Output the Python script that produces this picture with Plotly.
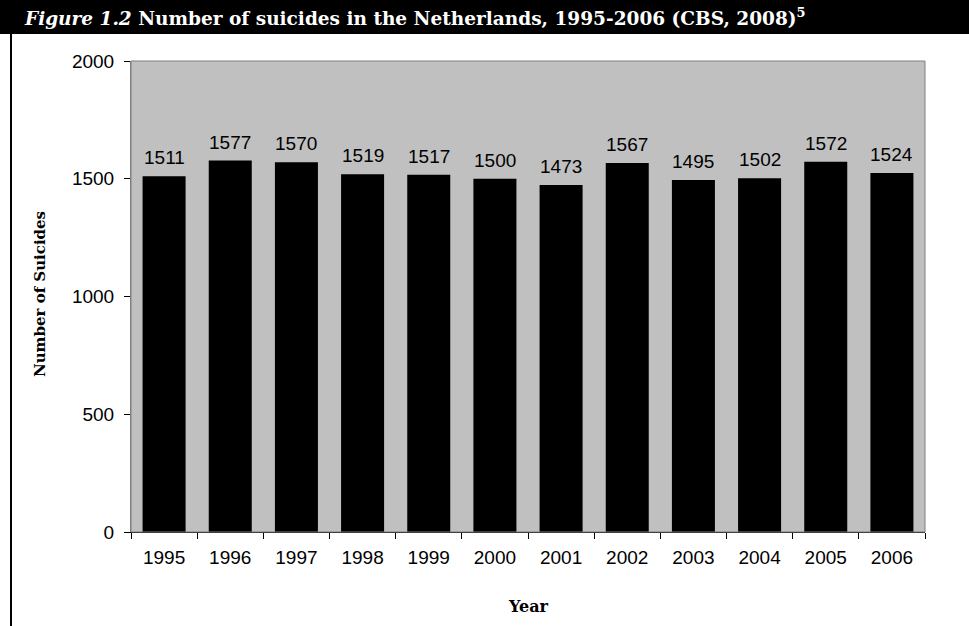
import plotly.graph_objects as go

# Annual number of suicides in the Netherlands (CBS, 2008)
years = ["1995", "1996", "1997", "1998", "1999", "2000",
         "2001", "2002", "2003", "2004", "2005", "2006"]
suicides = [1511, 1577, 1570, 1519, 1517, 1500,
            1473, 1567, 1495, 1502, 1572, 1524]
y_ticks = [0, 500, 1000, 1500, 2000]

W, H = 969, 626
L, R, T, B = 131, 44, 61, 94
PW, PH = W - L - R, H - T - B


def px_x(px):
    return (px - L) / PW


def px_y(py):
    return (H - B - py) / PH


sans = "Liberation Sans, Arial, sans-serif"
serif = "DejaVu Serif, serif"

fig = go.Figure()
fig.add_trace(go.Bar(
    x=years, y=suicides, width=0.65,
    marker=dict(color="black", line=dict(width=0)),
    hoverinfo="x+y",
))

# value labels above each bar (x given as category index)
for i, v in enumerate(suicides):
    fig.add_annotation(x=i, y=v, text=str(v), showarrow=False,
                       xref="x", yref="y",
                       yanchor="bottom", yshift=6,
                       font=dict(family=sans, size=19, color="black"))

shapes = [
    # title banner
    dict(type="rect", xref="paper", yref="paper",
         x0=px_x(0), x1=px_x(W), y0=px_y(34), y1=px_y(0),
         fillcolor="black", line=dict(width=0), layer="below"),
    # left frame rule
    dict(type="line", xref="paper", yref="paper",
         x0=px_x(11), x1=px_x(11), y0=px_y(34), y1=px_y(H),
         line=dict(color="black", width=2)),
    # plot area border
    dict(type="rect", xref="paper", yref="paper",
         x0=0, x1=1, y0=0, y1=1,
         line=dict(color="#808080", width=1), layer="above"),
]

fig.add_annotation(
    xref="paper", yref="paper", x=px_x(22), y=px_y(17),
    xanchor="left", yanchor="middle", showarrow=False,
    text="<i>Figure 1.2</i> Number of suicides in the Netherlands, 1995-2006 (CBS, 2008)<sup>5</sup>",
    font=dict(family=serif, size=18.5, color="white", weight="bold"),
)
fig.add_annotation(
    xref="paper", yref="paper", x=px_x(40), y=px_y(294),
    textangle=-90, showarrow=False, xanchor="center", yanchor="middle",
    text="Number of Suicides",
    font=dict(family=serif, size=15, color="black", weight="bold"),
)
fig.add_annotation(
    xref="paper", yref="paper", x=0.5, y=px_y(606),
    showarrow=False, xanchor="center", yanchor="middle",
    text="Year",
    font=dict(family=serif, size=16, color="black", weight="bold"),
)

fig.update_layout(
    width=W, height=H,
    margin=dict(l=L, r=R, t=T, b=B),
    paper_bgcolor="white", plot_bgcolor="#C0C0C0",
    showlegend=False, shapes=shapes, bargap=0.35,
    xaxis=dict(
        type="category", range=[-0.5, len(years) - 0.5],
        tickson="boundaries", ticks="outside", tickangle=0,
        ticklen=6, tickcolor="black", showline=True, linecolor="black",
        linewidth=1, showgrid=False, ticklabelstandoff=8,
        tickfont=dict(family=sans, size=19, color="black"),
    ),
    yaxis=dict(
        range=[0, 2000], tickvals=y_ticks, ticks="outside", ticklen=6,
        tickcolor="black", showline=True, linecolor="#808080",
        linewidth=1, showgrid=False, zeroline=False, ticklabelstandoff=6,
        tickfont=dict(family=sans, size=19, color="black"),
    ),
)

fig.write_html("out.html")
